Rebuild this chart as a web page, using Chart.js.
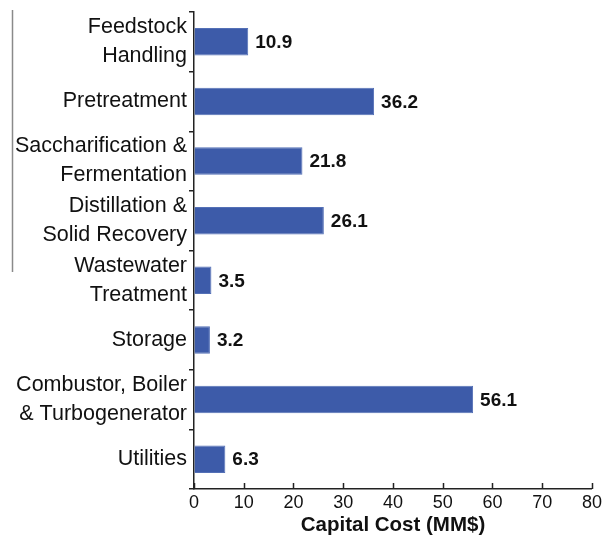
<!DOCTYPE html>
<html>
<head>
<meta charset="utf-8">
<script src="https://cdn.jsdelivr.net/npm/chart.js@4/dist/chart.umd.min.js"></script>
<style>
  html, body { margin: 0; padding: 0; background: #fff; }
  #wrap { width: 605px; height: 536px; }
</style>
</head>
<body>
<div id="wrap"><canvas id="c" width="605" height="536"></canvas></div>
<script>
// Capital cost by plant area (MM$)
const areas = [
  ['Feedstock', 'Handling'],
  'Pretreatment',
  ['Saccharification &', 'Fermentation'],
  ['Distillation &', 'Solid Recovery'],
  ['Wastewater', 'Treatment'],
  'Storage',
  ['Combustor, Boiler', '& Turbogenerator'],
  'Utilities'
];
const capitalCost = [10.9, 36.2, 21.8, 26.1, 3.5, 3.2, 56.1, 6.3];
const costTicks = [0, 10, 20, 30, 40, 50, 60, 70, 80];

const INK = '#111111';
const FONT = "'Liberation Sans', Arial, Helvetica, sans-serif";

// Value labels at the end of each bar
const valueLabels = {
  id: 'valueLabels',
  afterDatasetsDraw(chart) {
    const ctx = chart.ctx;
    const meta = chart.getDatasetMeta(0);
    ctx.save();
    ctx.font = 'bold 19px ' + FONT;
    ctx.fillStyle = INK;
    ctx.textAlign = 'left';
    ctx.textBaseline = 'middle';
    meta.data.forEach((bar, i) => {
      ctx.fillText(capitalCost[i].toFixed(1), bar.x + 7, bar.y + 1);
    });
    ctx.restore();
  }
};

// Inward tick marks on the cost axis, plus the thin rule at the left margin
const frameMarks = {
  id: 'frameMarks',
  afterDraw(chart) {
    const ctx = chart.ctx;
    const xs = chart.scales.x;
    const area = chart.chartArea;
    ctx.save();
    ctx.strokeStyle = '#222';
    ctx.lineWidth = 1.5;
    ctx.beginPath();
    costTicks.forEach(v => {
      const px = Math.round(xs.getPixelForValue(v)) + 0.5;
      ctx.moveTo(px, area.bottom);
      ctx.lineTo(px, area.bottom - 6);
    });
    ctx.stroke();
    ctx.strokeStyle = '#8a8a8a';
    ctx.lineWidth = 1.5;
    ctx.beginPath();
    ctx.moveTo(12.5, 10);
    ctx.lineTo(12.5, 272);
    ctx.stroke();
    ctx.restore();
  }
};

new Chart(document.getElementById('c'), {
  type: 'bar',
  data: {
    labels: areas,
    datasets: [{
      data: capitalCost,
      backgroundColor: '#3d5ba9',
      borderColor: '#5470b6',
      borderWidth: 1,
      barPercentage: 0.46,
      categoryPercentage: 1.0
    }]
  },
  options: {
    indexAxis: 'y',
    responsive: false,
    animation: false,
    layout: { padding: { left: 0, right: 12, top: 12, bottom: 0 } },
    plugins: {
      legend: { display: false },
      tooltip: { enabled: false }
    },
    scales: {
      x: {
        min: 0,
        max: 80,
        afterBuildTicks(scale) {
          scale.ticks = costTicks.map(v => ({ value: v }));
        },
        afterFit(scale) { scale.height = 47; },
        grid: { drawOnChartArea: false, drawTicks: false },
        border: { color: '#222', width: 1.5 },
        ticks: {
          padding: 3,
          color: INK,
          font: { family: FONT, size: 18 },
          maxRotation: 0
        },
        title: {
          display: true,
          text: 'Capital Cost (MM$)',
          color: INK,
          font: { family: FONT, size: 20.5, weight: 'bold', lineHeight: 1 },
          padding: { top: 0, bottom: 0 }
        }
      },
      y: {
        afterFit(scale) {
          scale.width = 194;
          scale.paddingTop = 0;
          scale.paddingBottom = 0;
        },
        grid: { drawOnChartArea: false, drawTicks: true, tickLength: 5, color: '#222', lineWidth: 1.5, offset: true },
        border: { color: '#222', width: 1.5 },
        ticks: {
          autoSkip: false,
          padding: 2,
          color: INK,
          font: { family: FONT, size: 21.5, lineHeight: 1.35 }
        }
      }
    }
  },
  plugins: [valueLabels, frameMarks]
});
</script>
</body>
</html>
